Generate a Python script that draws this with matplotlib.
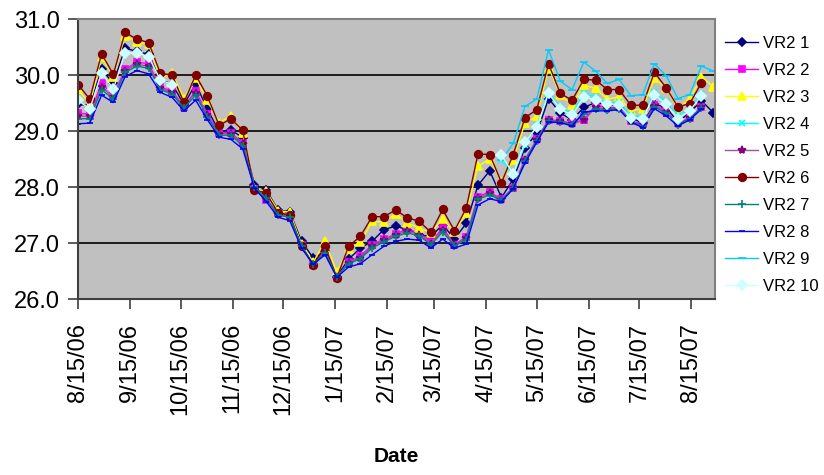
import datetime as dt

import matplotlib
matplotlib.use("Agg")
import matplotlib.pyplot as plt
import matplotlib.dates as mdates
import numpy as np

nan = np.nan

# weekly readings starting 8/15/06
start = dt.date(2006, 8, 15)
n_weeks = 55

vr2_1 = [29.48, 29.45, 30.10, 29.85, 30.48, 30.42, 30.37, 29.91, 29.84, 29.47,
         29.84, 29.39, 28.99, 29.02, 28.88, 28.04, 27.95, 27.59, 27.56, 27.03,
         26.73, 26.85, 26.40, 26.71, 26.91, 27.03, 27.24, 27.30, 27.24, 27.15,
         27.11, 27.33, 27.07, 27.35, 28.03, 28.29, 27.81, 28.14, 28.70, 28.96,
         29.58, 29.32, 29.20, 29.42, 29.51, 29.46, 29.46, 29.24, 29.14, 29.48,
         29.42, 29.16, 29.33, 29.54, 29.33]
vr2_2 = [29.32, 29.30, 29.85, 29.64, 30.10, 30.23, 30.20, 29.78, 29.72, 29.43,
         29.72, 29.30, 28.97, 28.97, 28.78, 27.96, 27.77, 27.53, 27.49, 26.96,
         26.60, 26.87, 26.38, 26.66, 26.76, 26.97, 27.07, 27.16, 27.25, 27.18,
         27.01, 27.27, 26.97, 27.11, 27.83, 27.91, 27.78, 27.99, 28.49, 28.85,
         29.20, 29.18, 29.14, 29.20, 29.46, 29.42, 29.42, 29.18, 29.12, 29.46,
         29.36, 29.14, 29.24, 29.43, nan]
vr2_3 = [29.75, 29.48, 30.32, 29.97, 30.70, 30.59, 30.55, 29.94, 30.04, 29.58,
         29.95, 29.55, 29.15, 29.27, 28.96, 27.98, 27.92, 27.58, 27.55, 26.98,
         26.66, 27.03, 26.48, 26.90, 27.01, 27.39, 27.37, 27.52, 27.36, 27.27,
         27.18, 27.43, 27.20, 27.54, 28.37, 28.50, 28.10, 28.49, 29.15, 29.26,
         30.13, 29.65, 29.46, 29.82, 29.76, 29.57, 29.61, 29.36, 29.40, 29.94,
         29.76, 29.40, 29.57, 29.97, 29.79]
vr2_4 = [nan] * 36 + [28.49, 28.22, 28.75, 29.10, 29.70, 29.42, 29.30, 29.68,
                      29.60, 29.50, 29.52, 29.28, 29.25, 29.70, 29.52, 29.28,
                      29.40, 29.66, nan]
vr2_5 = [29.27, 29.26, 29.79, 29.60, 30.08, 30.19, 30.16, 29.76, 29.69, 29.44,
         29.68, 29.28, 28.95, 28.95, 28.76, 27.97, 27.78, 27.51, 27.47, 26.95,
         26.61, 26.85, 26.39, 26.65, 26.74, 26.94, 27.05, 27.14, 27.22, 27.15,
         26.99, 27.24, 26.96, 27.09, 27.81, 27.89, 27.77, 27.98, 28.48, 28.84,
         29.19, 29.17, 29.13, 29.19, 29.42, 29.40, 29.41, 29.17, 29.10, 29.44,
         29.34, 29.12, 29.23, 29.42, nan]
vr2_6 = [29.83, 29.57, 30.38, 30.01, 30.76, 30.64, 30.58, 30.03, 30.00, 29.51,
         30.00, 29.62, 29.10, 29.22, 29.01, 27.95, 27.89, 27.54, 27.50, 26.94,
         26.60, 26.94, 26.38, 26.94, 27.12, 27.47, 27.47, 27.59, 27.45, 27.39,
         27.19, 27.60, 27.22, 27.62, 28.59, 28.58, 28.08, 28.58, 29.24, 29.38,
         30.20, 29.67, 29.55, 29.92, 29.91, 29.74, 29.74, 29.46, 29.46, 30.05,
         29.77, 29.43, 29.49, 29.86, nan]
vr2_7 = [29.22, 29.22, 29.74, 29.57, 30.05, 30.16, 30.12, 29.74, 29.66, 29.41,
         29.64, 29.25, 28.93, 28.92, 28.74, 28.00, 27.80, 27.50, 27.46, 26.95,
         26.62, 26.83, 26.40, 26.63, 26.72, 26.91, 27.02, 27.12, 27.18, 27.13,
         26.97, 27.20, 26.95, 27.06, 27.78, 27.86, 27.76, 27.98, 28.46, 28.83,
         29.18, 29.16, 29.12, 29.30, 29.40, 29.38, 29.40, 29.17, 29.09, 29.43,
         29.32, 29.11, 29.22, 29.41, nan]
vr2_8 = [29.13, 29.14, 29.64, 29.51, 29.97, 30.08, 30.02, 29.69, 29.60, 29.36,
         29.55, 29.20, 28.89, 28.85, 28.68, 27.98, 27.74, 27.46, 27.40, 26.91,
         26.62, 26.79, 26.39, 26.57, 26.63, 26.79, 26.94, 27.03, 27.07, 27.05,
         26.91, 27.07, 26.91, 26.98, 27.68, 27.79, 27.74, 27.97, 28.43, 28.80,
         29.16, 29.15, 29.09, 29.34, 29.36, 29.36, 29.38, 29.16, 29.06, 29.40,
         29.27, 29.09, 29.20, 29.39, nan]
vr2_9 = [nan] * 36 + [28.48, 28.78, 29.44, 29.57, 30.45, 29.89, 29.74, 30.23,
                      30.07, 29.85, 29.92, 29.63, 29.65, 30.20, 29.99, 29.58,
                      29.65, 30.16, 30.07]
vr2_10 = [29.55, 29.39, 30.04, 29.75, 30.40, 30.39, 30.33, 29.91, 29.83] \
    + [nan] * 27 + [28.57, 28.23, 28.80, 29.07, 29.67, 29.39, 29.28, 29.61,
                    29.55, 29.48, 29.46, 29.24, 29.22, 29.65, 29.48, 29.22,
                    29.36, 29.63, nan]

series = [vr2_1, vr2_2, vr2_3, vr2_4, vr2_5, vr2_6, vr2_7, vr2_8, vr2_9, vr2_10]
names = ["VR2 %d" % k for k in range(1, 11)]

tick_dates = [dt.date(2006 + (m - 1) // 12, (m - 1) % 12 + 1, 15)
              for m in range(8, 21)]
tick_labels = ["8/15/06", "9/15/06", "10/15/06", "11/15/06", "12/15/06",
               "1/15/07", "2/15/07", "3/15/07", "4/15/07", "5/15/07",
               "6/15/07", "7/15/07", "8/15/07"]

# Excel-ish line colours / markers
colors = ["#000080", "#ff00ff", "#ffff00", "#00ffff", "#800080",
          "#800000", "#008080", "#0000ff", "#00ccff", "#ccffff"]
line_colors = ["#000080", "#ff00ff", "#ffff00", "#00ffff", "#a050a8",
               "#800000", "#008080", "#0000ff", "#00ccff", "#ccffff"]
markers = ["D", "s", "^", "x", "*", "o", "+", "_", "_", "D"]
msizes = [4, 5, 6, 5, 6, 5.5, 6, 4, 6, 5]

plt.rcParams['font.family'] = ['Liberation Sans', 'DejaVu Sans']

dates = [start + dt.timedelta(days=7 * i) for i in range(n_weeks)]

fig = plt.figure(figsize=(8.24, 4.75), dpi=100)
ax = fig.add_axes([0.0947, 0.3705, 0.7733, 0.5895])
ax.set_facecolor("#c0c0c0")

for vals, name, c, lc, m, ms in zip(series, names, colors, line_colors,
                                     markers, msizes):
    ax.plot(dates, vals, color=lc, lw=1.0, marker=m, markersize=ms,
            markerfacecolor=c, markeredgecolor=c, markeredgewidth=1.2,
            label=name)

yt = np.arange(26, 31.5, 1.0)
ax.set_ylim(26, 31)
ax.set_yticks(yt)
ax.set_yticklabels(["%.1f" % v for v in yt], fontsize=17)
ax.yaxis.grid(True, color="black", lw=1.2)
ax.set_axisbelow(True)

ax.set_xlim(mdates.date2num(start), mdates.date2num(start) + 379.2)
ax.set_xticks([mdates.date2num(d) for d in tick_dates])
ax.set_xticklabels(tick_labels, rotation=90, fontsize=17)
ax.tick_params(axis="both", direction="out", length=7, width=1.2,
               color="#404040", pad=6)
ax.tick_params(axis="x", pad=10)

for side in ["top", "right"]:
    ax.spines[side].set_color("#808080")
    ax.spines[side].set_linewidth(1.5)
for side in ["left", "bottom"]:
    ax.spines[side].set_color("#404040")
    ax.spines[side].set_linewidth(1.5)

ax.set_xlabel("Date", fontsize=15, fontweight="bold", labelpad=23)

ax.legend(loc="upper left", bbox_to_anchor=(1.005, 0.962), frameon=False,
          fontsize=12, handlelength=2.0, handletextpad=0.3,
          labelspacing=0.72, borderaxespad=0.0)

fig.savefig("out.png", dpi=100)
